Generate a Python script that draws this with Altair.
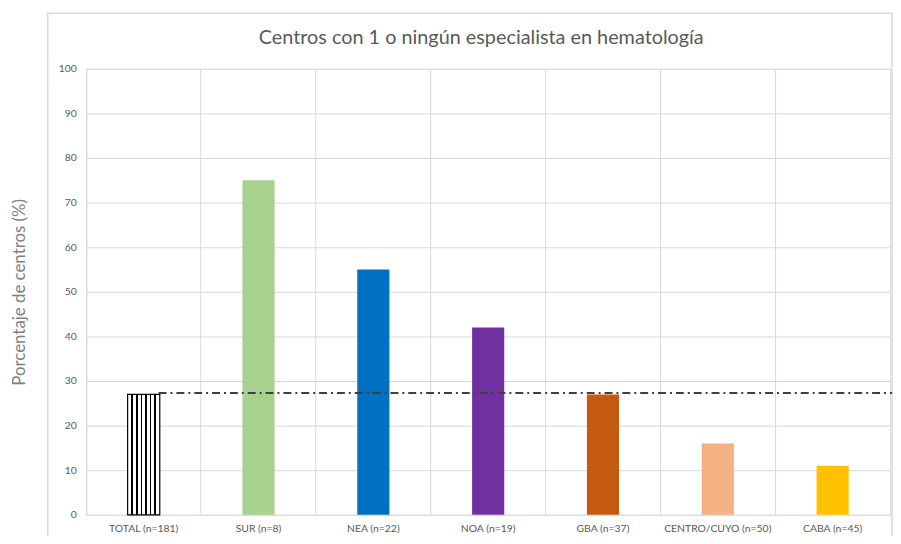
import altair as alt
import pandas as pd

# ---- data ----
categories = ["TOTAL (n=181)", "SUR (n=8)", "NEA  (n=22)", "NOA  (n=19)",
              "GBA (n=37)", "CENTRO/CUYO (n=50)", "CABA (n=45)"]
values = [27, 75, 55, 42, 27, 16, 11]
colors = ["#ffffff", "#a9d18e", "#0070c0", "#7030a0", "#c55a11", "#f4b183", "#ffc000"]
reference_value = 27.3
y_ticks = [0, 10, 20, 30, 40, 50, 60, 70, 80, 90, 100]

title = "Centros con 1 o ningún especialista en hematología"
y_title = "Porcentaje de centros (%)"

FONT = "Lato"
W, H = 811, 450

df = pd.DataFrame({"cat": categories, "val": values})
df_total = df[df["cat"] == categories[0]]
df_regions = df[df["cat"] != categories[0]]
df_ref = pd.DataFrame({"start": [categories[0]], "end": [categories[-1]], "ref": [reference_value]})

xscale = alt.Scale(domain=categories, paddingInner=0, paddingOuter=0)
yscale = alt.Scale(domain=[0, 100], nice=False)

x_axis = alt.Axis(
    title=None, bandPosition=0, grid=True, gridColor="#d9d9d9", ticks=False,
    domain=False, labelAngle=0, labelFontSize=10.5,
    labelColor="#595959", labelFont=FONT, labelPadding=9,
)
y_axis = alt.Axis(
    values=y_ticks, grid=True, gridColor="#d9d9d9", ticks=False, domain=False,
    labelFontSize=10.5, labelColor="#595959", labelFont=FONT, labelPadding=10,
    title=y_title, titleFont=FONT, titleFontSize=17, titleFontWeight="normal",
    titleColor="#7f7f7f", titleX=-67, titleY=H / 2, titleAlign="center",
    titleBaseline="middle", titleAngle=-90,
)

bars = alt.Chart(df_regions).mark_bar(width={"band": 0.28}).encode(
    x=alt.X("cat:N", scale=xscale, axis=x_axis, sort=categories),
    y=alt.Y("val:Q", scale=yscale, axis=y_axis),
    color=alt.Color("cat:N", scale=alt.Scale(domain=categories, range=colors), legend=None),
)

# vertical-stripe fill for the TOTAL bar
stops = [alt.GradientStop(offset=0, color="#ffffff")]
n_int = 7
lw = 0.045
for k in range(1, n_int):
    c = k / n_int
    stops += [
        alt.GradientStop(offset=c - lw / 2, color="#ffffff"),
        alt.GradientStop(offset=c - lw / 2, color="#000000"),
        alt.GradientStop(offset=c + lw / 2, color="#000000"),
        alt.GradientStop(offset=c + lw / 2, color="#ffffff"),
    ]
stops.append(alt.GradientStop(offset=1, color="#ffffff"))
stripe = alt.LinearGradient(gradient="linear", stops=stops, x1=0, x2=1, y1=0, y2=0)

total_bar = alt.Chart(df_total).mark_bar(
    width={"band": 0.28}, fill=stripe, stroke="#000000", strokeWidth=1.2
).encode(
    x=alt.X("cat:N", scale=xscale, sort=categories),
    y=alt.Y("val:Q", scale=yscale),
)

ref_rule = alt.Chart(df_ref).mark_rule(
    color="#404040", strokeWidth=2, strokeDash=[8, 4, 2, 4], xOffset=15, x2Offset=60
).encode(
    x=alt.X("start:N", scale=xscale),
    x2="end:N",
    y=alt.Y("ref:Q", scale=yscale),
)

frame = alt.Chart(pd.DataFrame({"a": [0]})).mark_rect(
    fill=None, stroke="#d9d9d9", strokeWidth=1.5
).encode(
    x=alt.value(-39), x2=alt.value(W + 2), y=alt.value(-56), y2=alt.value(H + 40)
)

chart = alt.layer(frame, bars, total_bar, ref_rule).properties(
    width=W, height=H,
    title=alt.TitleParams(title, font=FONT, fontSize=20, fontWeight="normal",
                          color="#595959", anchor="middle", offset=0, dx=-7, dy=36),
    autosize=alt.AutoSizeParams(type="none"),
    padding={"left": 79, "top": 59, "right": 3, "bottom": 19},
).configure_view(
    fill="#eeeeee", stroke="#d9d9d9"
).configure(background="#ffffff")

chart.save("out.html", embed_options={"renderer": "svg", "actions": False})
